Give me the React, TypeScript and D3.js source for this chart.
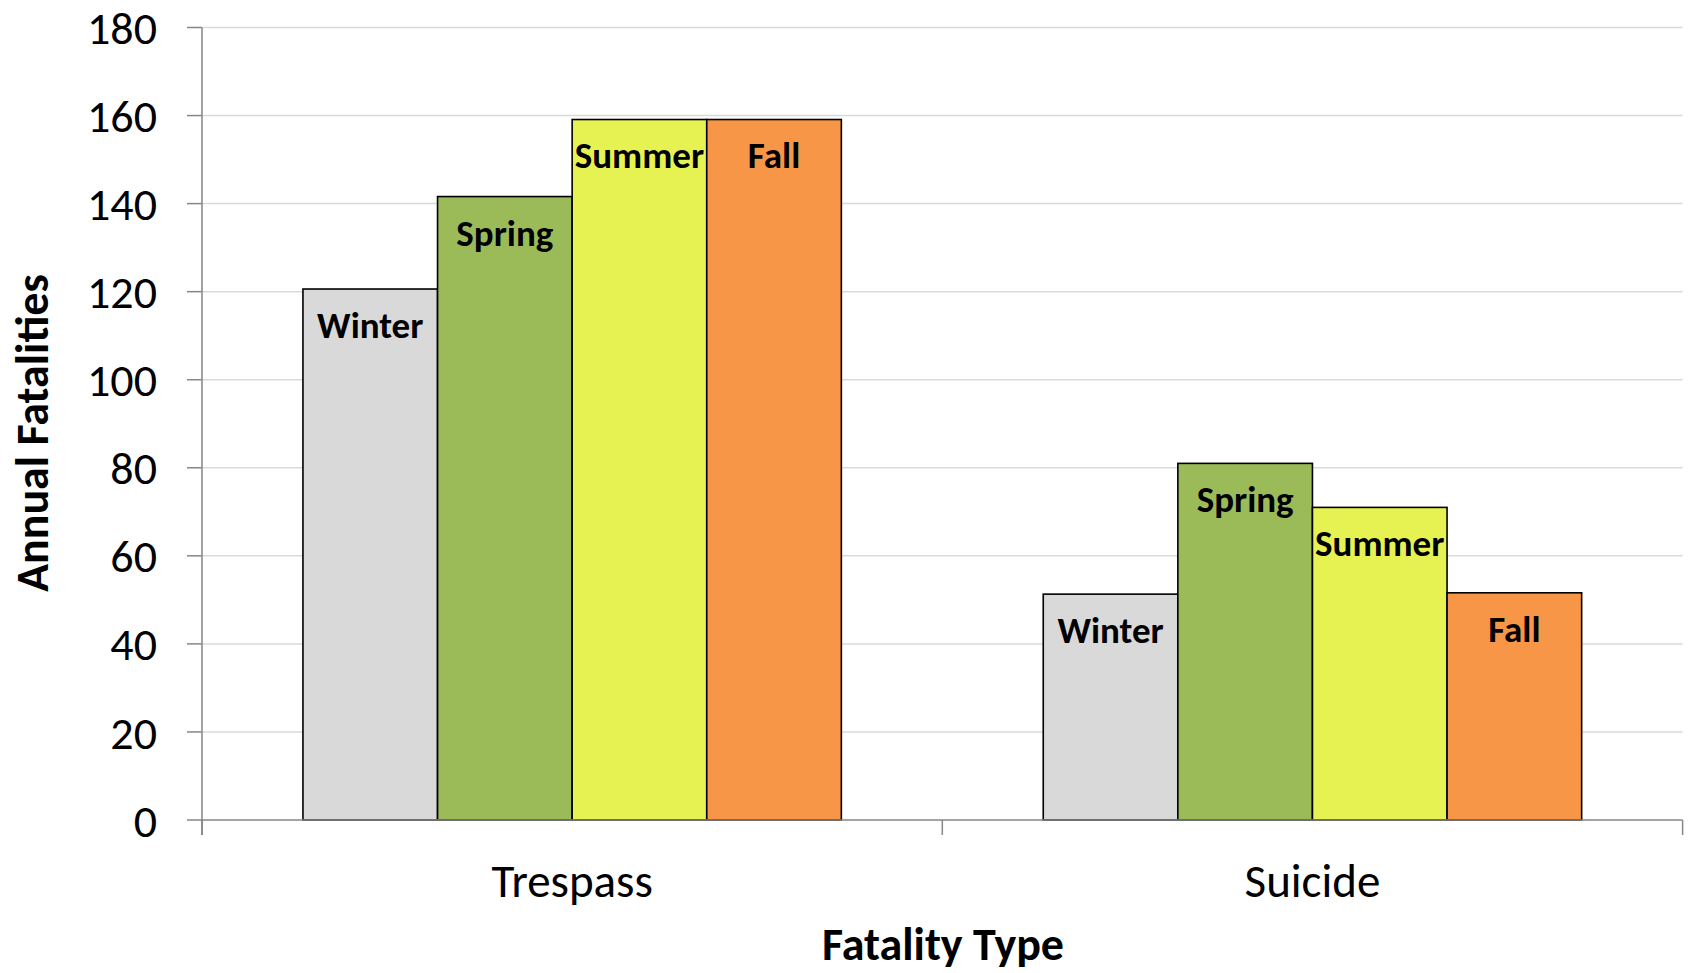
import React from "react";
import * as d3 from "d3";

const categories = ["Trespass", "Suicide"];
const seasons = ["Winter", "Spring", "Summer", "Fall"];
const winterValues = [120.6, 51.3];
const springValues = [141.6, 81.0];
const summerValues = [159.1, 71.0];
const fallValues = [159.1, 51.6];
const seasonColors = ["#d9d9d9", "#9bbb59", "#e6f252", "#f79646"];
const yTicks = [0, 20, 40, 60, 80, 100, 120, 140, 160, 180];
const yTitle = "Annual Fatalities";
const xTitle = "Fatality Type";

const W = 1688;
const H = 973;
const FONT = "Carlito, Calibri, Lato, 'Open Sans', sans-serif";

export default function App() {
  const left = 202;
  const right = 1682.6;
  const y = d3.scaleLinear().domain([0, 180]).range([820, 27.5]);
  const x0 = d3.scaleBand<string>().domain(categories).range([left, right]);
  const band = x0.bandwidth();
  const w = band / 5.5;
  const x1 = d3
    .scaleBand<string>()
    .domain(seasons)
    .range([0.75 * w, 4.75 * w]);

  const seriesValues = [winterValues, springValues, summerValues, fallValues];

  return (
    <svg
      width={W}
      height={H}
      style={{ position: "absolute", left: 0, top: 0, background: "#fff" }}
      fontFamily={FONT}
    >
      {/* gridlines */}
      {yTicks
        .filter((t) => t > 0)
        .map((t) => (
          <line
            key={"g" + t}
            x1={left}
            x2={right}
            y1={y(t)}
            y2={y(t)}
            stroke="#d9d9d9"
            strokeWidth={1.5}
          />
        ))}
      {/* bars */}
      {categories.map((c, ci) =>
        seasons.map((s, si) => {
          const v = seriesValues[si][ci];
          const bx = (x0(c) as number) + (x1(s) as number);
          const bw = x1.bandwidth();
          return (
            <g key={c + s}>
              <rect
                x={bx}
                y={y(v)}
                width={bw}
                height={y(0) - y(v)}
                fill={seasonColors[si]}
                stroke="#000"
                strokeWidth={1.6}
              />
              <text
                x={bx + bw / 2}
                y={y(v) + 36}
                dy="0.35em"
                textAnchor="middle"
                fontWeight="bold"
                fontSize={37}
                fill="#000"
              >
                {s}
              </text>
            </g>
          );
        })
      )}
      {/* y axis */}
      <line x1={left} x2={left} y1={y(180)} y2={y(0) + 15} stroke="#868686" strokeWidth={1.5} />
      {yTicks.map((t) => (
        <g key={"t" + t}>
          <line x1={left - 15} x2={left} y1={y(t)} y2={y(t)} stroke="#868686" strokeWidth={1.5} />
          <text
            x={157}
            y={y(t)}
            dy="0.36em"
            textAnchor="end"
            fontSize={46}
            fill="#000"
          >
            {t}
          </text>
        </g>
      ))}
      {/* x axis */}
      <line x1={left} x2={right} y1={y(0)} y2={y(0)} stroke="#868686" strokeWidth={1.5} />
      {[...categories.map((c) => x0(c) as number), right].map((xv, i) => (
        <line key={"xt" + i} x1={xv} x2={xv} y1={y(0)} y2={y(0) + 15} stroke="#868686" strokeWidth={1.5} />
      ))}
      {categories.map((c) => (
        <text
          key={"c" + c}
          x={(x0(c) as number) + band / 2}
          y={897}
          textAnchor="middle"
          fontSize={47}
          fill="#000"
        >
          {c}
        </text>
      ))}
      {/* axis titles */}
      <text x={943} y={960} textAnchor="middle" fontSize={46} fontWeight="bold" fill="#000">
        {xTitle}
      </text>
      <text
        transform={`translate(48,433) rotate(-90)`}
        textAnchor="middle"
        fontSize={46}
        fontWeight="bold"
        fill="#000"
      >
        {yTitle}
      </text>
    </svg>
  );
}
